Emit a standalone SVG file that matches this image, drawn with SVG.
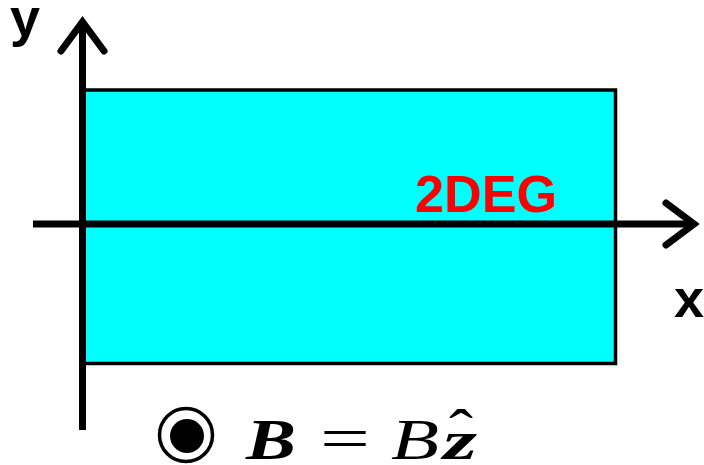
<svg xmlns="http://www.w3.org/2000/svg" width="704" height="465" viewBox="0 0 704 465">
<style>
.axis{stroke:#000;stroke-width:7;fill:none;stroke-linecap:butt}
.head{stroke:#000;stroke-width:7;fill:none;stroke-linecap:round;stroke-linejoin:miter}
.lbl{font-family:"Liberation Sans",Arial,sans-serif;font-weight:bold;fill:#000}
.math{font-family:"Liberation Serif","Times New Roman",serif;font-style:italic;fill:#000}
</style>
<rect width="704" height="465" fill="#fff"/>
<g id="sample">
<rect x="84" y="90" width="531.5" height="273.5" fill="#00ffff" stroke="#000" stroke-width="3.5"/>
<text x="415" y="212" font-family="Liberation Sans, Arial, sans-serif" font-weight="bold" font-size="52" fill="#ff0000" textLength="142" lengthAdjust="spacingAndGlyphs">2DEG</text>
</g>
<g id="connectors">
<line class="axis" x1="82.5" y1="430" x2="82.5" y2="24"/>
<polyline class="head" points="61,51 82.5,22 104,51"/>
<line class="axis" x1="33" y1="224" x2="692" y2="224"/>
<polyline class="head" points="666,203 694,224 666,245"/>
</g>
<g id="labels">
<text class="lbl" x="10" y="36" font-size="54">y</text>
<text class="lbl" x="674" y="317" font-size="54">x</text>
</g>
<g id="field">
<circle cx="186" cy="435" r="26.5" fill="none" stroke="#000" stroke-width="3.5"/>
<circle cx="187" cy="436" r="17" fill="#000"/>
<text class="math" x="246" y="459" font-size="56" font-weight="bold" textLength="50" lengthAdjust="spacingAndGlyphs">B</text>
<text x="320" y="459" font-family="Liberation Serif, serif" font-size="62" textLength="50" lengthAdjust="spacingAndGlyphs">=</text>
<text class="math" x="391" y="459" font-size="56" textLength="48" lengthAdjust="spacingAndGlyphs">B</text>
<text class="math" x="443" y="459" font-size="54" font-weight="bold" textLength="34" lengthAdjust="spacingAndGlyphs">z</text>
<text x="449" y="450" font-family="Liberation Serif, serif" font-size="60" textLength="24" lengthAdjust="spacingAndGlyphs">ˆ</text>
</g>
</svg>
